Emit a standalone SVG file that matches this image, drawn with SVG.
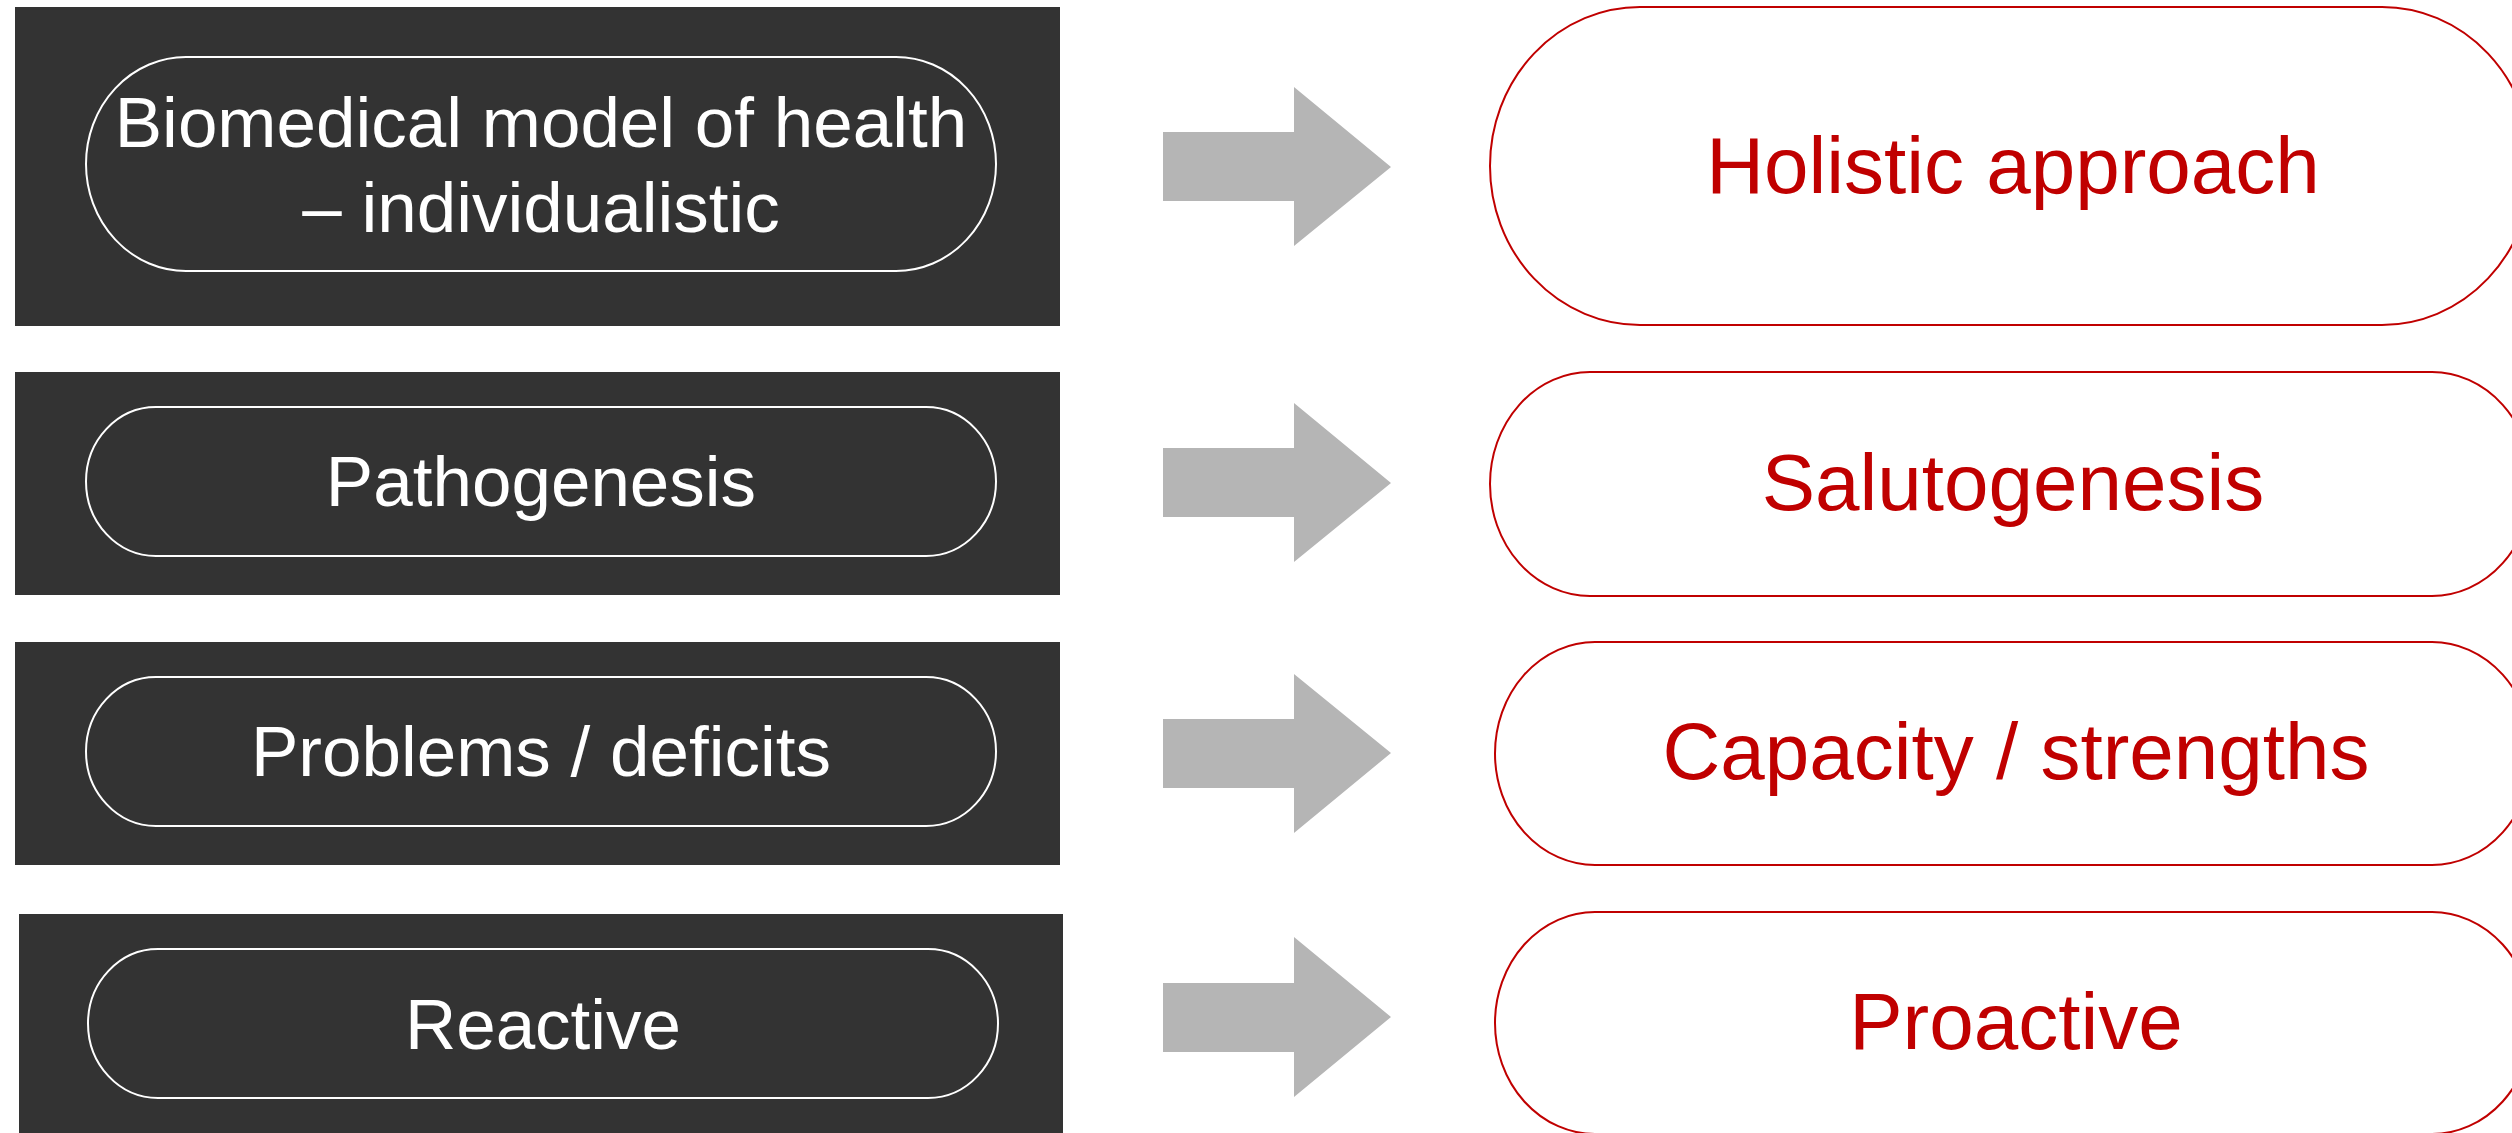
<svg xmlns="http://www.w3.org/2000/svg" width="2512" height="1133" viewBox="0 0 2512 1133">
<style>
.bg{fill:#333333}
.lp{fill:none;stroke:#FFFFFF;stroke-width:2}
.rp{fill:#FFFFFF;stroke:#C00000;stroke-width:2}
.lt{font-family:"Liberation Sans",Arial,sans-serif;font-size:71px;fill:#FFFFFF;text-anchor:middle}
.rt{font-family:"Liberation Sans",Arial,sans-serif;font-size:80px;fill:#C00000;text-anchor:middle}
.ar{fill:#B5B5B5}
</style>
<rect width="2512" height="1133" fill="#FFFFFF"/>
<g id="left1">
<rect class="bg" x="15" y="7" width="1045" height="319"/>
<rect class="lp" x="86" y="57" width="910" height="214" rx="100" ry="107"/>
<text class="lt" x="541" y="147">Biomedical model of health</text>
<text class="lt" x="541" y="232">– individualistic</text>
</g>
<g id="left2">
<rect class="bg" x="15" y="372" width="1045" height="223"/>
<rect class="lp" x="86" y="407" width="910" height="149" rx="70" ry="74.5"/>
<text class="lt" x="541" y="506">Pathogenesis</text>
</g>
<g id="left3">
<rect class="bg" x="15" y="642" width="1045" height="223"/>
<rect class="lp" x="86" y="677" width="910" height="149" rx="70" ry="74.5"/>
<text class="lt" x="541" y="776">Problems / deficits</text>
</g>
<g id="left4">
<rect class="bg" x="19" y="914" width="1044" height="219"/>
<rect class="lp" x="88" y="949" width="910" height="149" rx="70" ry="74.5"/>
<text class="lt" x="543" y="1049">Reactive</text>
</g>
<g id="connectors">
<polygon class="ar" points="1163,132 1294,132 1294,87 1391,167 1294,246 1294,201 1163,201"/>
<polygon class="ar" points="1163,448 1294,448 1294,403 1391,483 1294,562 1294,517 1163,517"/>
<polygon class="ar" points="1163,719 1294,719 1294,674 1391,753 1294,833 1294,788 1163,788"/>
<polygon class="ar" points="1163,983 1294,983 1294,937 1391,1017 1294,1097 1294,1052 1163,1052"/>
</g>
<g id="right1">
<rect class="rp" x="1490" y="7" width="1042" height="318" rx="150" ry="159"/>
<text class="rt" x="2013" y="193">Holistic approach</text>
</g>
<g id="right2">
<rect class="rp" x="1490" y="372" width="1042" height="224" rx="100" ry="112"/>
<text class="rt" x="2013" y="510">Salutogenesis</text>
</g>
<g id="right3">
<rect class="rp" x="1495" y="642" width="1037" height="223" rx="100" ry="111.5"/>
<text class="rt" x="2016" y="779">Capacity / strengths</text>
</g>
<g id="right4">
<rect class="rp" x="1495" y="912" width="1037" height="222" rx="100" ry="111"/>
<text class="rt" x="2016" y="1049">Proactive</text>
</g>
</svg>
